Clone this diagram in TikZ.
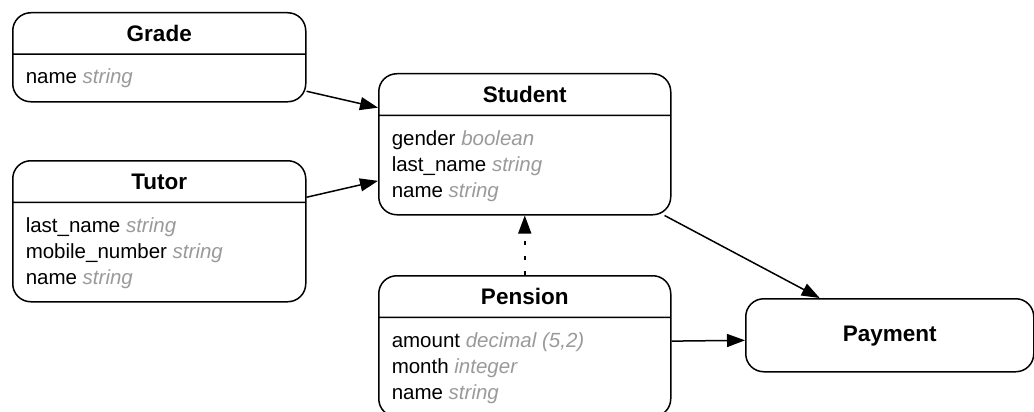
\documentclass[tikz,border=0pt]{standalone}
\usepackage{fontspec}
\setmainfont{Liberation Sans}
\usetikzlibrary{shapes.multipart,arrows.meta}
\definecolor{typegray}{HTML}{9A9A9A}
\newcommand{\hstrut}{\rule[-2pt]{0pt}{20pt}}
\newcommand{\lstrut}{\rule[-7pt]{0pt}{26pt}}
\newcommand{\entname}[1]{\hstrut{\fontsize{22.5}{26}\selectfont\bfseries #1}}
\newcommand{\attr}[2]{\lstrut#1 {\color{typegray}\itshape #2}}
\begin{document}
\begin{tikzpicture}[x=1pt, y=-1pt, >={Triangle[length=18pt, width=13pt]},
  every node/.style={font=\fontsize{20.5}{26}\selectfont},
  entity/.style={rectangle split, rectangle split parts=2, draw, line width=1.5pt,
    rounded corners=18pt, minimum width=293pt, inner xsep=13pt, inner ysep=10pt,
    align=left, rectangle split part align={center,left}, anchor=north west},
  link/.style={->, line width=1.5pt}]
  \useasboundingbox (0,0) rectangle (1034,412);
  % entities
  \node[entity] (grade) at (12,12)
    {\entname{Grade} \nodepart{two} \attr{name}{string}};
  \node[entity] (tutor) at (12,160)
    {\entname{Tutor} \nodepart{two} \attr{last\_name}{string}\\
     \attr{mobile\_number}{string}\\ \attr{name}{string}};
  \node[entity, minimum width=292pt] (student) at (378,73)
    {\entname{Student} \nodepart{two} \attr{gender}{boolean}\\
     \attr{last\_name}{string}\\ \attr{name}{string}};
  \node[entity, minimum width=292pt] (pension) at (378,275)
    {\entname{Pension} \nodepart{two} \attr{amount}{decimal (5,2)}\\
     \attr{month}{integer}\\ \attr{name}{string}};
  \node[draw, line width=1.5pt, rounded corners=18pt, minimum width=288pt,
    minimum height=73pt, anchor=north west] (payment) at (745,298) {\entname{Payment}};
  % relations
  \draw[link] (grade.-13) -- (student.166);
  \draw[link] (tutor.13) -- (student.194);
  \draw[link] (student.-27) -- (payment.152);
  \draw[link] (pension.2) -- (payment.182);
  \draw[link, dash pattern=on 4pt off 11pt] (pension.north) -- (student.south);
\end{tikzpicture}
\end{document}
